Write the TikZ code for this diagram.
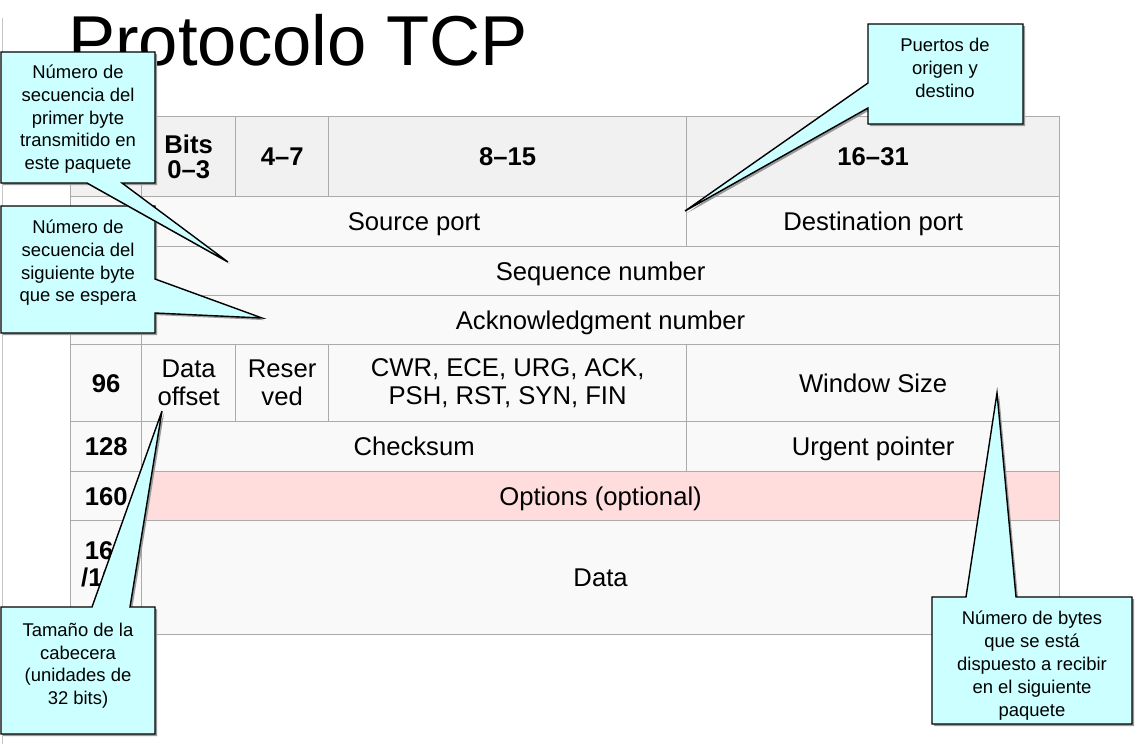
\documentclass[tikz,border=0pt]{standalone}
\usepackage{fontspec}
\setmainfont{Liberation Sans}
\usepackage{xcolor}
\usetikzlibrary{positioning, shadows}

\definecolor{gridgray}{HTML}{ABABAB}
\definecolor{bodygray}{HTML}{F9F9F9}
\definecolor{headgray}{HTML}{F1F1F1}
\definecolor{optpink}{HTML}{FFDDDD}
\definecolor{notecyan}{HTML}{CCFFFF}

\begin{document}
\begin{tikzpicture}[
  x=0.02cm, y=-0.02cm,
  font=\fontsize{14.6}{16}\selectfont,
  cell/.style={draw=gridgray, fill=bodygray, line width=0.75pt, anchor=north west, inner sep=2pt, align=center,
    text height=10.5pt, text depth=0pt},
  multi/.style={text height=, text depth=},
  head/.style={cell, fill=headgray, font=\fontsize{14.6}{14.2}\selectfont\bfseries},
  offs/.style={cell, font=\fontsize{14.6}{15.6}\selectfont\bfseries},
  opts/.style={cell, fill=optpink},
  note/.style={draw=black, fill=notecyan, line width=0.8pt, line join=miter,
    drop shadow={shadow xshift=1.2pt, shadow yshift=-1.2pt, opacity=1, fill=black!40}},
  notetext/.style={anchor=north, align=center, inner sep=0pt, font=\fontsize{10.5}{13}\selectfont,
    execute at begin node={\vphantom{Ú}}}
]
\useasboundingbox (0,0) rectangle (1143,744);

% Title
\draw[gray!45] (2,18) -- (2,744);
\node[anchor=base west, inner sep=0pt, font=\fontsize{40.2}{41}\selectfont] (title) at (68,65) {Protocolo TCP};

% Header row
\node[head, minimum width=1.42cm, minimum height=1.6cm] (hoff) at (70,116) {};
\node[head, multi, minimum width=1.88cm, minimum height=1.6cm] (hbits) at (141,116) {Bits\\0–3};
\node[head, minimum width=1.86cm, minimum height=1.6cm] (hfour) at (235,116) {4–7};
\node[head, minimum width=7.16cm, minimum height=1.6cm] (height) at (328,116) {8–15};
\node[head, minimum width=7.46cm, minimum height=1.6cm] (hsixteen) at (686,116) {16–31};

% Fields
\node[cell, minimum width=1.42cm, minimum height=1.0cm] (rzero) at (70,196) {};
\node[cell, minimum width=10.9cm, minimum height=1.0cm] (srcport) at (141,196) {Source port};
\node[cell, minimum width=7.46cm, minimum height=1.0cm] (dstport) at (686,196) {Destination port};

\node[cell, minimum width=1.42cm, minimum height=0.98cm] (rthirtytwo) at (70,246) {};
\node[cell, minimum width=18.36cm, minimum height=0.98cm] (seqnum) at (141,246) {Sequence number};

\node[cell, minimum width=1.42cm, minimum height=0.98cm] (rsixtyfour) at (70,295) {};
\node[cell, minimum width=18.36cm, minimum height=0.98cm] (acknum) at (141,295) {Acknowledgment number};

\node[offs, minimum width=1.42cm, minimum height=1.54cm] (rninetysix) at (70,344) {96};
\node[cell, multi, minimum width=1.88cm, minimum height=1.54cm] (dataoff) at (141,344) {Data\\offset};
\node[cell, multi, minimum width=1.86cm, minimum height=1.54cm] (reserved) at (235,344) {Reser\\ved};
\node[cell, multi, minimum width=7.16cm, minimum height=1.54cm] (flags) at (328,344) {CWR, ECE, URG, ACK,\\PSH, RST, SYN, FIN};
\node[cell, minimum width=7.46cm, minimum height=1.54cm] (winsize) at (686,344) {Window Size};

\node[offs, minimum width=1.42cm, minimum height=1.0cm] (ronetwentyeight) at (70,421) {128};
\node[cell, minimum width=10.9cm, minimum height=1.0cm] (checksum) at (141,421) {Checksum};
\node[cell, minimum width=7.46cm, minimum height=1.0cm] (urgent) at (686,421) {Urgent pointer};

\node[offs, minimum width=1.42cm, minimum height=0.98cm] (ronesixty) at (70,471) {160};
\node[opts, minimum width=18.36cm, minimum height=0.98cm] (options) at (141,471) {Options (optional)};

\node[offs, multi, minimum width=1.42cm, minimum height=2.28cm] (rdata) at (70,520) {160\\/192\\+};
\node[cell, minimum width=18.36cm, minimum height=2.28cm] (data) at (141,520) {Data};

% Callouts
\draw[note] (1,206) -- (155,206) -- (155,279) -- (262,318) -- (155,313) -- (155,333) -- (1,333) -- cycle;
\node[notetext] (acknote) at (78,219.5) {Número de\\secuencia del\\siguiente byte\\que se espera};

\draw[note] (1,52) -- (155,52) -- (155,183) -- (122,183) -- (228,262) -- (87,183) -- (1,183) -- cycle;
\node[notetext] (seqnote) at (78,64.5) {Número de\\secuencia del\\primer byte\\transmitido en\\este paquete};

\draw[note] (868,24) -- (1023,24) -- (1023,124) -- (868,124) -- (868,108) -- (685,211) -- (868,83) -- cycle;
\node[notetext] (portnote) at (945,38) {Puertos de\\origen y\\destino};

\draw[note] (1,607) -- (92,607) -- (162,411) -- (130,607) -- (155,607) -- (155,734) -- (1,734) -- cycle;
\node[notetext] (offnote) at (78,622.5) {Tamaño de la\\cabecera\\(unidades de\\32 bits)};

\draw[note] (932,597) -- (966,597) -- (997,393) -- (1016,597) -- (1132,597) -- (1132,724) -- (932,724) -- cycle;
\node[notetext] (winnote) at (1032,611) {Número de bytes\\que se está\\dispuesto a recibir\\en el siguiente\\paquete};

\end{tikzpicture}
\end{document}
